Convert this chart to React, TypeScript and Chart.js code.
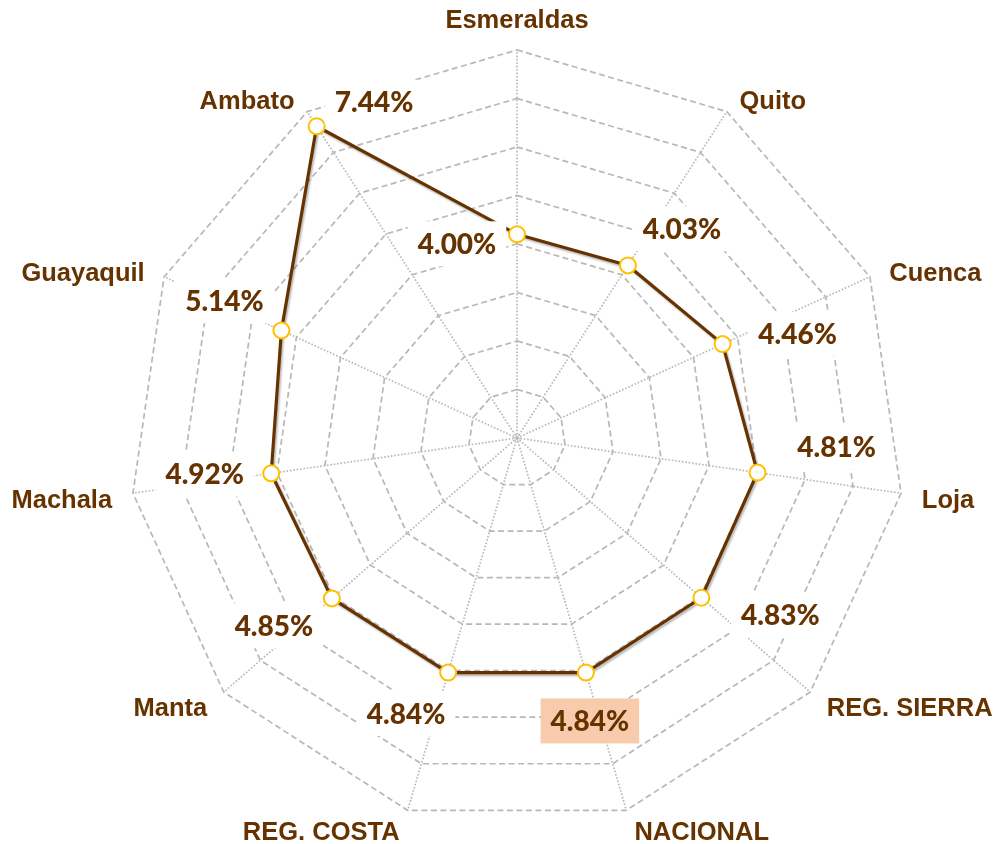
import React, { useEffect, useRef } from "react";
import { Chart, registerables } from "chart.js";

Chart.register(...registerables);

// ---- data ----
const categories: string[] = [
  "Esmeraldas",
  "Quito",
  "Cuenca",
  "Loja",
  "REG. SIERRA",
  "NACIONAL",
  "REG. COSTA",
  "Manta",
  "Machala",
  "Guayaquil",
  "Ambato",
];
const rates: number[] = [4.0, 4.03, 4.46, 4.81, 4.83, 4.84, 4.84, 4.85, 4.92, 5.14, 7.44];
const highlightCategory = "NACIONAL";

// radial axis (rings every 1 unit, starting below zero as in the original)
const axisMin = -0.2;
const axisMax = 7.8;
const axisStep = 1;

// ---- layout / style ----
// value label text centre relative to its marker (px)
const valueLabelOffsets: [number, number][] = [
  [-60, 9.5],
  [54, -36.7],
  [75, -10],
  [79, -25.5],
  [79, 17.4],
  [4, 48.4],
  [-42, 41],
  [-58, 27.4],
  [-66.5, 0.7],
  [-57, -29.7],
  [57.4, -24],
];

const BROWN = "#663300";
const GOLD = "#FFC000";
const GRID = "#B8B8B8";
const HIGHLIGHT_BG = "#F8CBAD";
const CAT_FONT_SIZE = 25.5;
const VAL_FONT_SIZE = 28;

const shadowPlugin = {
  id: "lineShadow",
  beforeDatasetDraw(chart: any, args: any) {
    if (args.index === 1) {
      const ctx = chart.ctx;
      ctx.save();
      ctx.shadowColor = "rgba(0,0,0,0.28)";
      ctx.shadowBlur = 2;
      ctx.shadowOffsetX = 1.5;
      ctx.shadowOffsetY = 2;
    }
  },
  afterDatasetDraw(chart: any, args: any) {
    if (args.index === 1) chart.ctx.restore();
  },
};

const centerDotPlugin = {
  id: "centerDot",
  beforeDatasetsDraw(chart: any) {
    const scale = chart.scales.r;
    const ctx = chart.ctx;
    ctx.save();
    ctx.strokeStyle = GRID;
    ctx.lineWidth = 1.3;
    ctx.setLineDash([1.5, 1.5]);
    ctx.beginPath();
    ctx.arc(scale.xCenter, scale.yCenter, 3, 0, Math.PI * 2);
    ctx.stroke();
    ctx.restore();
  },
};

const labelsPlugin = {
  id: "customLabels",
  afterDatasetsDraw(chart: any) {
    const scale = chart.scales.r;
    const ctx = chart.ctx;
    const n = categories.length;

    // value labels
    ctx.save();
    ctx.font = `900 ${VAL_FONT_SIZE}px Lato`;
    ctx.textAlign = "center";
    ctx.textBaseline = "alphabetic";
    const meta = chart.getDatasetMeta(0);
    meta.data.forEach((pt: any, i: number) => {
      const text = rates[i].toFixed(2) + "%";
      const [ox, oy] = valueLabelOffsets[i];
      const cx = pt.x + ox;
      const cy = pt.y + oy;
      const w = ctx.measureText(text).width;
      ctx.fillStyle = categories[i] === highlightCategory ? HIGHLIGHT_BG : "#FFFFFF";
      ctx.fillRect(cx - w / 2 - 10, cy - 22.5, w + 20, 45);
      ctx.fillStyle = BROWN;
      ctx.fillText(text, cx, cy + 0.717 * VAL_FONT_SIZE / 2);
    });
    ctx.restore();

    // category labels
    ctx.save();
    ctx.font = `bold ${CAT_FONT_SIZE}px "Liberation Sans"`;
    ctx.fillStyle = BROWN;
    ctx.textBaseline = "alphabetic";
    const capH = 0.716 * CAT_FONT_SIZE;
    categories.forEach((label, i) => {
      const v = scale.getPointPosition(i, scale.drawingArea);
      const ang = (i / n) * Math.PI * 2;
      const s = Math.sin(ang);
      const c = Math.cos(ang);
      let x: number;
      let capCenter: number;
      if (Math.abs(s) < 0.05) {
        ctx.textAlign = "center";
        x = v.x;
        capCenter = v.y - c * 31;
      } else {
        ctx.textAlign = s > 0 ? "left" : "right";
        x = v.x + Math.sign(s) * (3 + 18 * Math.abs(s));
        capCenter = v.y + 3 - 18 * c;
      }
      ctx.fillText(label, x, capCenter + capH / 2);
    });
    ctx.restore();
  },
};

export default function App() {
  const canvasRef = useRef<HTMLCanvasElement | null>(null);

  useEffect(() => {
    if (!canvasRef.current) return;
    const chart = new Chart(canvasRef.current, {
      type: "radar",
      data: {
        labels: categories,
        datasets: [
          {
            label: "markers",
            data: rates,
            showLine: false,
            pointRadius: 8,
            pointHoverRadius: 8,
            pointBorderWidth: 2,
            pointBorderColor: GOLD,
            pointBackgroundColor: "#FFFFFF",
            borderColor: BROWN,
            backgroundColor: "transparent",
          },
          {
            label: "line",
            data: rates,
            pointRadius: 0,
            borderColor: BROWN,
            borderWidth: 3.2,
            backgroundColor: "transparent",
            fill: false,
            tension: 0,
          },
        ],
      },
      options: {
        animation: false,
        responsive: false,
        events: [],
        layout: { padding: { left: 129, right: 96, top: 50, bottom: 18 } },
        plugins: {
          legend: { display: false },
          tooltip: { enabled: false },
          title: { display: false },
        },
        scales: {
          r: {
            min: axisMin,
            max: axisMax,
            ticks: { display: false, stepSize: axisStep },
            afterBuildTicks: (scale: any) => {
              const t: { value: number }[] = [];
              for (let v = axisMin; v <= axisMax + 1e-6; v += axisStep) {
                t.push({ value: Math.round(v * 100) / 100 });
              }
              scale.ticks = t;
            },
            pointLabels: { display: false },
            grid: { color: GRID, lineWidth: 1.7 },
            border: { dash: [6, 3.5] },
            angleLines: { color: GRID, lineWidth: 1.7, borderDash: [1.6, 1.8] },
          },
        },
      },
      plugins: [shadowPlugin, centerDotPlugin, labelsPlugin],
    } as any);
    return () => chart.destroy();
  }, []);

  return (
    <div style={{ position: "absolute", left: 0, top: 0, width: 1001, height: 844, background: "#FFFFFF" }}>
      <canvas ref={canvasRef} width={1001} height={844} />
    </div>
  );
}
